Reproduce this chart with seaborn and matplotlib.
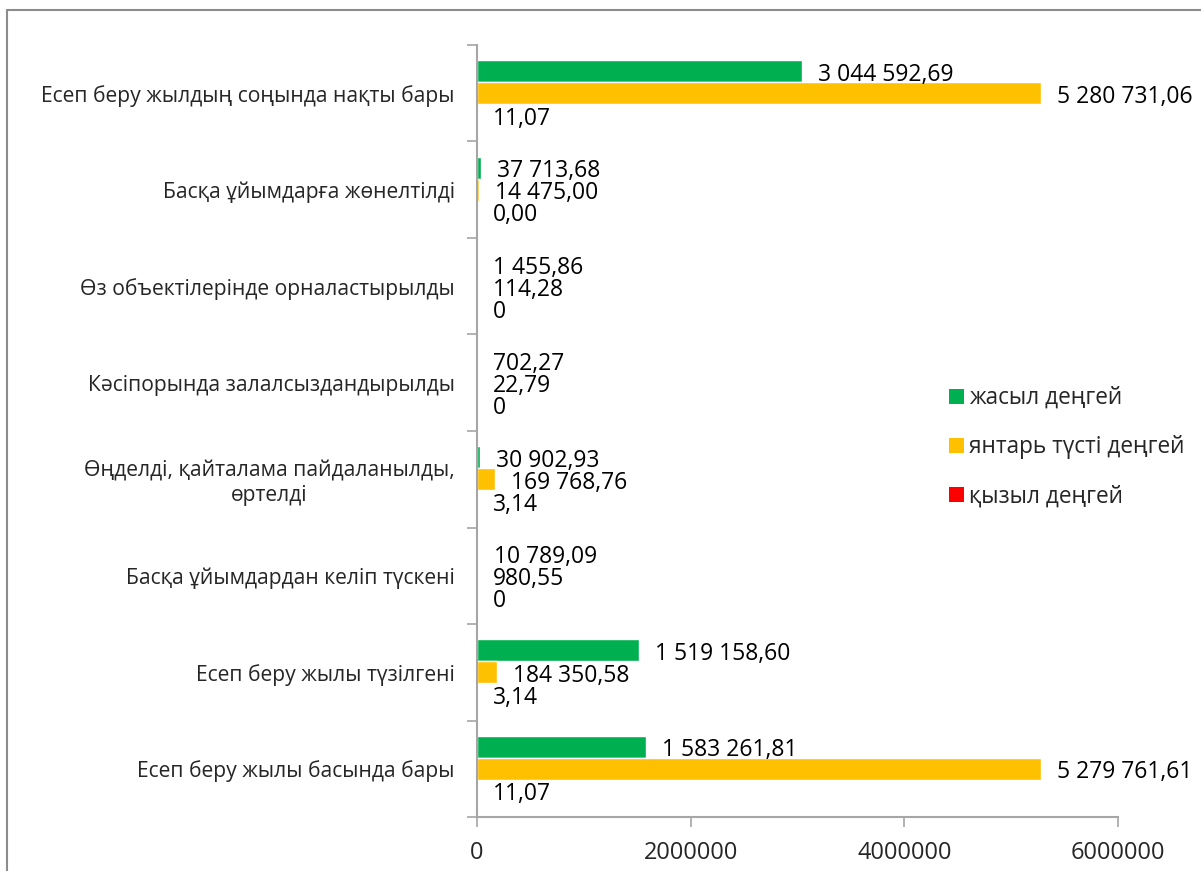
import matplotlib
matplotlib.use("Agg")
import matplotlib.pyplot as plt
import seaborn as sns
import pandas as pd
from matplotlib.patches import Patch
from matplotlib.lines import Line2D

categories = [
    "Есеп беру жылдың соңында нақты бары",
    "Басқа ұйымдарға жөнелтілді",
    "Өз объектілерінде орналастырылды",
    "Кәсіпорында залалсыздандырылды",
    "Өңделді, қайталама пайдаланылды,\nөртелді",
    "Басқа ұйымдардан келіп түскені",
    "Есеп беру жылы түзілгені",
    "Есеп беру жылы басында бары",
]
series_names = ["жасыл деңгей", "янтарь түсті деңгей", "қызыл деңгей"]
green = [3044592.69, 37713.68, 1455.86, 702.27, 30902.93, 10789.09, 1519158.60, 1583261.81]
amber = [5280731.06, 14475.00, 114.28, 22.79, 169768.76, 980.55, 184350.58, 5279761.61]
red = [11.07, 0.00, 0, 0, 3.14, 0, 3.14, 11.07]
red_decimals = [2, 2, 0, 0, 2, 0, 2, 2]
x_ticks = [0, 2000000, 4000000, 6000000]
colors = ["#00B050", "#FFC000", "#FF0000"]


def fmt(v, d=2):
    s = f"{v:,.{d}f}"
    return s.replace(",", " ").replace(".", ",")


rows = []
for name, vals in zip(series_names, [green, amber, red]):
    for c, v in zip(categories, vals):
        rows.append({"cat": c, "val": v, "series": name})
df = pd.DataFrame(rows)

sns.set_theme(style="white")
FONT = ["Open Sans", "DejaVu Sans"]
plt.rcParams["font.family"] = FONT

W, H = 1201, 871
fig = plt.figure(figsize=(W / 100, H / 100), dpi=100)
ax = fig.add_axes([477 / W, (H - 817) / H, (1118 - 477) / W, (817 - 45) / H])

sns.barplot(data=df, y="cat", x="val", hue="series", order=categories,
            hue_order=series_names, palette=colors, orient="h", width=0.68,
            saturation=1, ax=ax, legend=False, errorbar=None)

labels = [[fmt(v) for v in green], [fmt(v) for v in amber],
          [fmt(v, d) for v, d in zip(red, red_decimals)]]
for cont, labs in zip(ax.containers, labels):
    anns = ax.bar_label(cont, labels=labs, padding=11.5, fontsize=16.5, color="#000000")
    for a in anns:
        a.xyann = (11.5, -2.5)

ax.set_xlim(0, 6000000)
ax.set_ylim(len(categories) - 0.5, -0.5)
ax.set_xticks(x_ticks)
ax.set_xticklabels([str(t) for t in x_ticks], fontsize=17)
ax.set_xlabel("")
ax.set_ylabel("")

ax.set_yticks([i - 0.5 for i in range(len(categories) + 1)], minor=True)
ax.tick_params(axis="y", which="major", length=0, pad=16, labelsize=15.2)
ax.tick_params(axis="y", which="minor", length=7, width=1.2, color="#A6A6A6", direction="out", left=True)
ax.tick_params(axis="x", which="major", length=7, width=1.2, color="#A6A6A6", direction="out", bottom=True, pad=10)
for lab in ax.get_yticklabels():
    lab.set_multialignment("center")

for s in ["top", "right"]:
    ax.spines[s].set_visible(False)
for s in ["left", "bottom"]:
    ax.spines[s].set_color("#A6A6A6")
    ax.spines[s].set_linewidth(1.5)
ax.grid(False)

handles = [Patch(facecolor=c, edgecolor="none") for c in colors]
fig.legend(handles, series_names, loc="upper left",
           bbox_to_anchor=(940 / W, 1 - 377 / H), frameon=False,
           fontsize=16.3, handlelength=0.65, handleheight=0.65, handletextpad=0.25,
           labelspacing=1.12, borderaxespad=0)

# outer chart border (left and top visible)
fig.add_artist(Line2D([7 / W, 7 / W], [0, 1 - 10 / H], transform=fig.transFigure, color="#8C8C8C", lw=1.5))
fig.add_artist(Line2D([7 / W, 1], [1 - 10 / H, 1 - 10 / H], transform=fig.transFigure, color="#8C8C8C", lw=1.5))

fig.savefig("out.png", dpi=100, facecolor="white")
